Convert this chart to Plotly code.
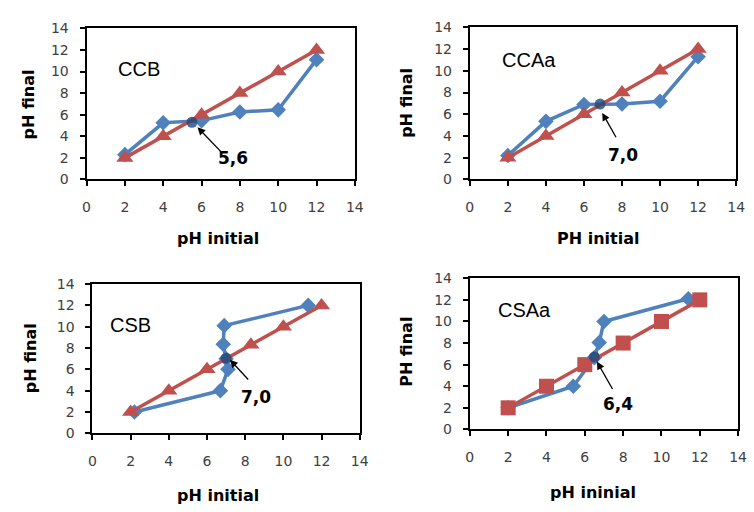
import plotly.graph_objects as go

# ---------------- data ----------------
ccb_blue_x = [2, 4, 6, 8, 10, 12]
ccb_blue_y = [2.3, 5.25, 5.45, 6.25, 6.45, 11.1]
ccb_red_x = [2, 4, 6, 8, 10, 12]
ccb_red_y = [2, 4, 6, 8, 10, 12]
ccb_pzc = (5.5, 5.3)

ccaa_blue_x = [2, 4, 6, 8, 10, 12]
ccaa_blue_y = [2.2, 5.35, 6.9, 6.95, 7.2, 11.3]
ccaa_red_x = [2, 4, 6, 8, 10, 12]
ccaa_red_y = [2, 4, 6, 8, 10, 12]
ccaa_pzc = (6.85, 6.94)

csb_blue_x = [2.2, 6.7, 7.1, 7.0, 6.85, 6.9, 11.3]
csb_blue_y = [2.0, 4.0, 6.0, 7.0, 8.35, 10.1, 12.0]
csb_red_x = [2, 4, 6, 8.3, 10, 12]
csb_red_y = [2, 4, 6, 8.3, 10, 12]
csb_pzc = (7.0, 7.05)

csaa_blue_x = [2, 5.4, 6.5, 6.75, 7.0, 11.4]
csaa_blue_y = [2, 4.0, 6.65, 8.05, 10.0, 12.1]
csaa_red_x = [2, 4, 6, 8, 10, 12]
csaa_red_y = [2, 4, 6, 8, 10, 12]
csaa_pzc = (6.5, 6.7)

panel_names = ["CCB", "CCAa", "CSB", "CSAa"]
pzc_labels = ["5,6", "7,0", "7,0", "6,4"]
x_titles = ["pH initial", "PH initial", "pH initial", "pH ininial"]
y_titles = ["pH final", "pH final", "pH final", "PH final"]
tick_vals = [0, 2, 4, 6, 8, 10, 12, 14]

# ---------------- style ----------------
W, H = 754, 512
BLUE = "#4F81BD"
RED = "#C0504D"
NAVY = "#1F497D"

# pixel boxes of plot areas: (left, right, top, bottom)
boxes = [(84, 357, 21, 177), (474, 745, 20, 177), (90, 362, 285, 439), (474, 747, 279, 435)]

panels = [
    (ccb_blue_x, ccb_blue_y, ccb_red_x, ccb_red_y, ccb_pzc, "triangle-up"),
    (ccaa_blue_x, ccaa_blue_y, ccaa_red_x, ccaa_red_y, ccaa_pzc, "triangle-up"),
    (csb_blue_x, csb_blue_y, csb_red_x, csb_red_y, csb_pzc, "triangle-up"),
    (csaa_blue_x, csaa_blue_y, csaa_red_x, csaa_red_y, csaa_pzc, "square"),
]

# positions (data coords) for panel names, labels, arrows
name_pos = [(1.55, 10.2), (1.6, 11.0), (0.8, 10.2), (1.35, 11.05)]
label_pos = [(7.64, 1.97), (8.06, 2.23), (8.58, 3.39), (7.74, 2.4)]
arrow_tail = [(7.16, 2.3), (7.73, 3.75), (8.23, 4.9), (7.49, 3.6)]
arrow_head = [(5.79, 4.84), (6.96, 6.13), (7.2, 6.9), (6.63, 6.28)]
# axis title pixel centres
xt_pix = [(218, 238), (604, 238), (218, 503), (599, 500)]
yt_pix = [(25, 100), (410, 98), (27, 362), (410, 355)]

fig = go.Figure()
annotations = []
layout = {}
for i, (bx, by, rx, ry, pzc, rsym) in enumerate(panels):
    n = "" if i == 0 else str(i + 1)
    xa, ya = "x" + n, "y" + n
    fig.add_trace(go.Scatter(x=bx, y=by, mode="lines+markers", xaxis=xa, yaxis=ya,
                             line=dict(color=BLUE, width=3.5),
                             marker=dict(symbol="diamond", size=12, color=BLUE),
                             showlegend=False, cliponaxis=False))
    fig.add_trace(go.Scatter(x=rx, y=ry, mode="lines+markers", xaxis=xa, yaxis=ya,
                             line=dict(color=RED, width=3.5),
                             marker=dict(symbol=rsym, size=15, color=RED),
                             showlegend=False, cliponaxis=False))
    fig.add_trace(go.Scatter(x=[pzc[0]], y=[pzc[1]], mode="markers", xaxis=xa, yaxis=ya,
                             marker=dict(symbol="circle", size=11, color=NAVY, opacity=0.8),
                             showlegend=False, cliponaxis=False))
    l, r, t, b = boxes[i]
    axcommon = dict(range=[0, 14], tickvals=tick_vals, showgrid=False, zeroline=False,
                    showline=True, linecolor="black", linewidth=2, mirror=True,
                    ticks="outside", ticklen=5, tickwidth=2, tickcolor="black",
                    tickfont=dict(family="DejaVu Sans", size=14, color="#404040"),
                    fixedrange=True)
    layout["xaxis" + n] = dict(axcommon, domain=[l / W, r / W], anchor=ya, ticklabelstandoff=9)
    layout["yaxis" + n] = dict(axcommon, domain=[1 - b / H, 1 - t / H], anchor=xa, ticklabelstandoff=8)

    annotations.append(dict(x=name_pos[i][0], y=name_pos[i][1], xref=xa, yref=ya,
                            text=panel_names[i], showarrow=False, xanchor="left", yanchor="middle",
                            font=dict(family="Liberation Sans", size=20, color="black")))
    annotations.append(dict(x=arrow_head[i][0], y=arrow_head[i][1], xref=xa, yref=ya,
                            ax=arrow_tail[i][0], ay=arrow_tail[i][1], axref=xa, ayref=ya,
                            text="", showarrow=True, arrowhead=2, arrowsize=1.2, arrowwidth=1.3,
                            arrowcolor="black"))
    annotations.append(dict(x=label_pos[i][0], y=label_pos[i][1], xref=xa, yref=ya,
                            text="<b>" + pzc_labels[i] + "</b>", showarrow=False,
                            xanchor="center", yanchor="middle",
                            font=dict(family="DejaVu Sans", size=17, color="black")))
    annotations.append(dict(x=xt_pix[i][0] / W, y=1 - xt_pix[i][1] / H, xref="paper", yref="paper",
                            text="<b>" + x_titles[i] + "</b>", showarrow=False,
                            xanchor="center", yanchor="middle",
                            font=dict(family="DejaVu Sans", size=16, color="black")))
    annotations.append(dict(x=yt_pix[i][0] / W, y=1 - yt_pix[i][1] / H, xref="paper", yref="paper",
                            text="<b>" + y_titles[i] + "</b>", showarrow=False, textangle=-90,
                            xanchor="center", yanchor="middle",
                            font=dict(family="DejaVu Sans", size=16, color="black")))

fig.update_layout(width=W, height=H, margin=dict(l=0, r=0, t=0, b=0),
                  paper_bgcolor="white", plot_bgcolor="white",
                  annotations=annotations, **layout)
fig.write_html("out.html")
